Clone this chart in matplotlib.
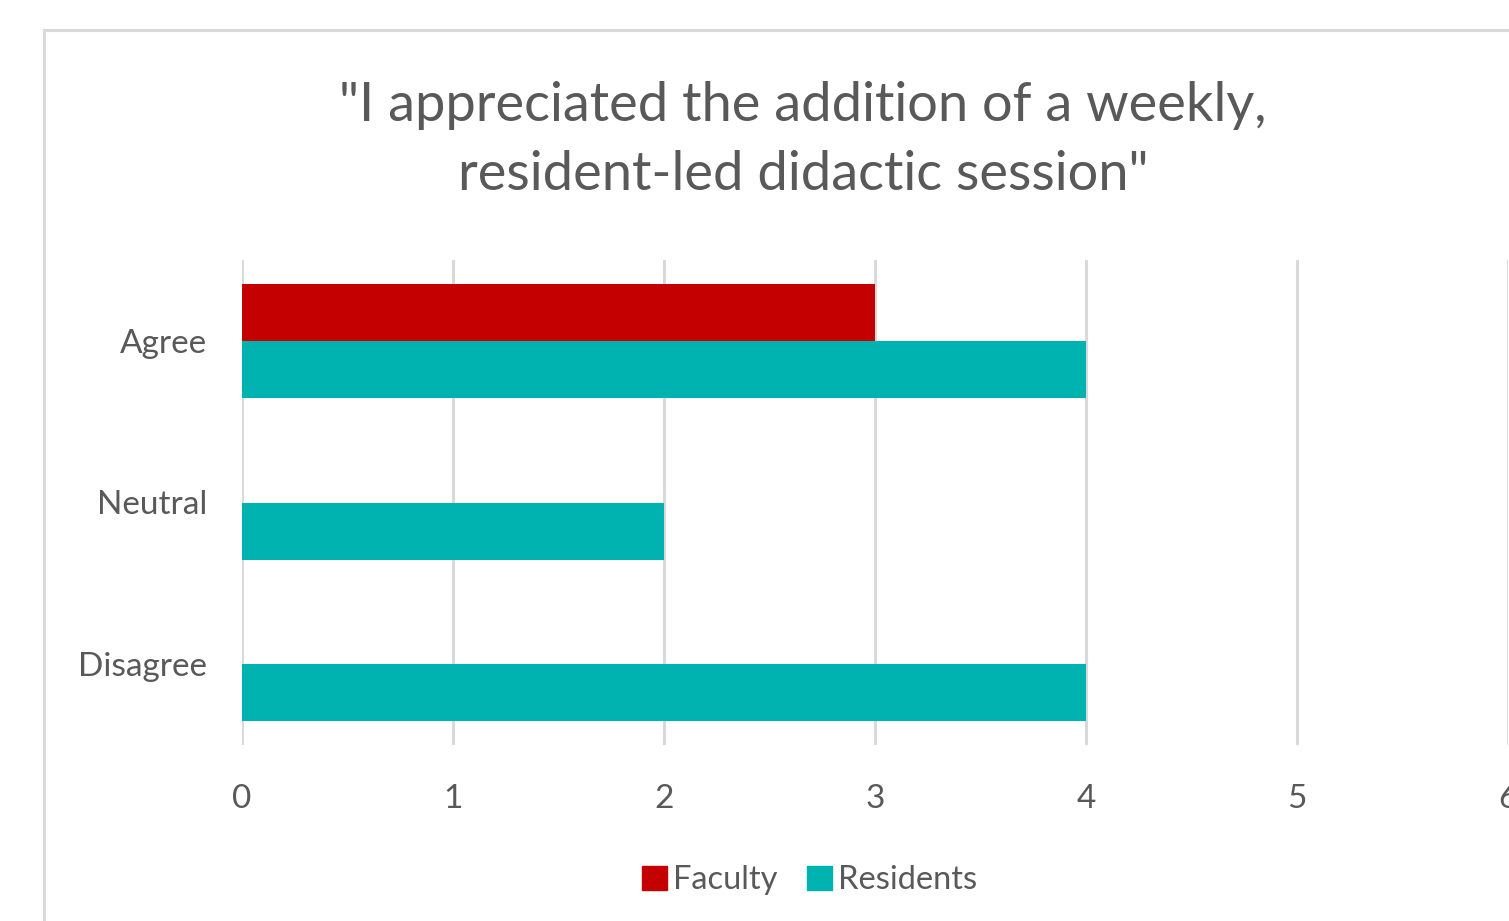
import matplotlib
matplotlib.use("Agg")
import matplotlib.pyplot as plt
from matplotlib.patches import Rectangle, Patch

# data
categories = ["Agree", "Neutral", "Disagree"]
faculty = [3, 0, 0]
residents = [4, 2, 4]
x_ticks = [0, 1, 2, 3, 4, 5, 6]
title = "\"I appreciated the addition of a weekly,\nresident-led didactic session\""

RED = "#C50000"
TEAL = "#00B3B0"
GRID = "#D9D9D9"
TXT = "#595959"

plt.rcParams["font.family"] = ["Lato", "DejaVu Sans"]

W, H = 1509, 921
fig = plt.figure(figsize=(W / 100, H / 100), dpi=100)

# chart border (cropped on right and bottom)
fig.patches.append(Rectangle((44 / W, -0.1), 2.0, 1 - 30 / H + 0.1, transform=fig.transFigure,
                             fill=False, ec=GRID, lw=2.2))

ax = fig.add_axes([242 / W, (H - 745) / H, (1508 - 242) / W, 485 / H])

ypos = list(range(len(categories)))[::-1]
h = 0.353
ax.barh([y + h / 2 for y in ypos], faculty, height=h, color=RED, label="Faculty")
ax.barh([y - h / 2 for y in ypos], residents, height=h, color=TEAL, label="Residents")

ax.set_xlim(0, 6)
ax.set_ylim(-0.5, 2.5)
ax.set_xticks(x_ticks)
ax.set_yticks(ypos)
ax.set_yticklabels(categories)
ax.xaxis.grid(True, color=GRID, lw=2.2)
ax.set_axisbelow(True)
for s in ax.spines.values():
    s.set_visible(False)
ax.tick_params(axis="x", length=0, pad=28, labelsize=24, labelcolor=TXT)
ax.tick_params(axis="y", length=0, pad=25, labelsize=24, labelcolor=TXT)

fig.text(803 / W, 1 - 140 / H, title, ha="center", va="center", fontsize=39, color=TXT,
         linespacing=1.52)

handles = [Patch(color=RED, label="Faculty"), Patch(color=TEAL, label="Residents")]
fig.legend(handles=handles, loc="center", bbox_to_anchor=(810 / W, 1 - 880 / H), ncol=2,
           frameon=False, fontsize=23.5, labelcolor=TXT, handlelength=0.75, handleheight=0.75,
           handletextpad=0.2, columnspacing=0.9)

fig.savefig("out.png", dpi=100)
